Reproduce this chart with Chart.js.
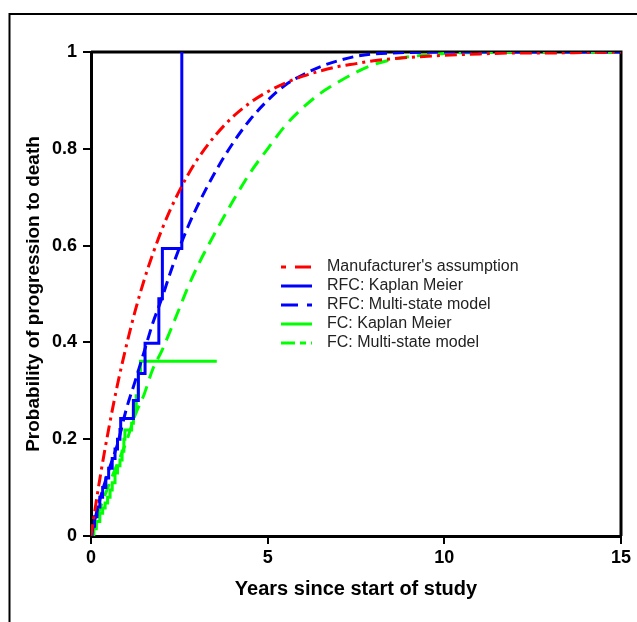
<!DOCTYPE html>
<html>
<head>
<meta charset="utf-8">
<script src="https://cdn.jsdelivr.net/npm/chart.js@4.4.1/dist/chart.umd.min.js"></script>
<style>
  html, body { margin: 0; padding: 0; background: #fff; }
  #wrap { width: 637px; height: 622px; }
</style>
</head>
<body>
<div id="wrap"><canvas id="chart" width="637" height="622"></canvas></div>
<script>
// time grid for the smooth curves (years)
const years = [0, 0.25, 0.5, 0.75, 1, 1.25, 1.5, 1.75, 2, 2.25, 2.5, 2.75, 3, 3.5, 4, 4.5, 5, 5.5, 6, 6.5, 7, 7.5, 8, 8.5, 9, 10, 11, 12, 13, 14, 15];

const manufacturer = [0, 0.118, 0.221, 0.313, 0.393, 0.465, 0.528, 0.583, 0.632, 0.675, 0.713, 0.747, 0.777, 0.826, 0.865, 0.895, 0.918, 0.936, 0.95, 0.961, 0.97, 0.976, 0.982, 0.986, 0.989, 0.993, 0.996, 0.998, 0.998, 0.999, 1];
const rfcMultiState = [0, 0.075, 0.135, 0.19, 0.262, 0.32, 0.38, 0.44, 0.49, 0.545, 0.595, 0.64, 0.68, 0.75, 0.81, 0.86, 0.9, 0.932, 0.953, 0.97, 0.982, 0.991, 0.996, 0.998, 0.999, 1, 1, 1, 1, 1, 1];
const fcMultiState = [0, 0.055, 0.105, 0.15, 0.195, 0.25, 0.292, 0.345, 0.382, 0.425, 0.47, 0.515, 0.555, 0.625, 0.69, 0.75, 0.8, 0.848, 0.885, 0.915, 0.938, 0.958, 0.974, 0.984, 0.99, 0.997, 0.999, 1, 1, 1, 1];

// Kaplan Meier step points (event time, cumulative probability)
const rfcKmTimes = [0, 0.03, 0.1, 0.17, 0.25, 0.33, 0.42, 0.5, 0.6, 0.68, 0.75, 0.82, 0.84, 1.2, 1.34, 1.53, 1.92, 2.02, 2.57];
const rfcKmProb  = [0, 0.02, 0.04, 0.06, 0.08, 0.1, 0.12, 0.14, 0.16, 0.18, 0.2, 0.22, 0.243, 0.28, 0.336, 0.398, 0.49, 0.594, 1];
const fcKmTimes = [0, 0.08, 0.15, 0.25, 0.33, 0.4, 0.47, 0.54, 0.6, 0.68, 0.75, 0.82, 0.88, 0.93, 0.96, 1.15, 1.2, 1.28, 1.34, 1.4, 3.56];
const fcKmProb  = [0, 0.015, 0.03, 0.047, 0.058, 0.068, 0.08, 0.095, 0.11, 0.13, 0.145, 0.157, 0.175, 0.2, 0.219, 0.233, 0.26, 0.29, 0.34, 0.361, 0.361];

const xTicks = [0, 5, 10, 15];
const yTicks = [0, 0.2, 0.4, 0.6, 0.8, 1];

const FONT = '"Liberation Sans", Arial, sans-serif';
const pts = (xs, ys) => xs.map((x, i) => ({ x: x, y: ys[i] }));

// legend sample dash patterns
const legendDash = [[5, 9, 16, 100], [], [17, 9, 5, 100], [], [14, 5, 6, 5, 4, 100]];

const framePlugin = {
  id: 'frame',
  beforeDatasetsDraw(chart) {
    const { ctx, chartArea: a } = chart;
    ctx.save();
    ctx.strokeStyle = '#000';
    ctx.lineWidth = 3;
    ctx.beginPath();
    ctx.moveTo(a.left, a.top);
    ctx.lineTo(a.right, a.top);
    ctx.lineTo(a.right, a.bottom);
    ctx.stroke();
    ctx.lineWidth = 2;
    ctx.beginPath();
    ctx.moveTo(9.5, 622);
    ctx.lineTo(9.5, 14);
    ctx.lineTo(637, 14);
    ctx.stroke();
    ctx.restore();
  },
  afterDatasetsDraw(chart) {
    const ctx = chart.ctx;
    ctx.save();
    chart.data.datasets.forEach((ds, i) => {
      const y = 267 + i * 19;
      ctx.strokeStyle = ds.borderColor;
      ctx.lineWidth = 3;
      ctx.setLineDash(legendDash[i]);
      ctx.beginPath();
      ctx.moveTo(281, y);
      ctx.lineTo(312, y);
      ctx.stroke();
      ctx.setLineDash([]);
      ctx.fillStyle = '#222';
      ctx.font = '16px ' + FONT;
      ctx.textBaseline = 'middle';
      ctx.fillText(ds.label, 327, y);
    });
    ctx.restore();
  }
};

new Chart(document.getElementById('chart'), {
  type: 'line',
  data: {
    datasets: [
      {
        label: "Manufacturer's assumption",
        data: pts(years, manufacturer),
        borderColor: '#ff0000',
        borderWidth: 3,
        borderDash: [12, 5, 3, 5],
        cubicInterpolationMode: 'monotone',
      },
      {
        label: 'RFC: Kaplan Meier',
        data: pts(rfcKmTimes, rfcKmProb),
        borderColor: '#0000ff',
        borderWidth: 3,
        stepped: true,
      },
      {
        label: 'RFC: Multi-state model',
        data: pts(years, rfcMultiState),
        borderColor: '#0000ff',
        borderWidth: 3,
        borderDash: [11, 6],
        cubicInterpolationMode: 'monotone',
      },
      {
        label: 'FC: Kaplan Meier',
        data: pts(fcKmTimes, fcKmProb),
        borderColor: '#00ff00',
        borderWidth: 3,
        stepped: true,
      },
      {
        label: 'FC: Multi-state model',
        data: pts(years, fcMultiState),
        borderColor: '#00ff00',
        borderWidth: 3,
        borderDash: [13, 8],
        cubicInterpolationMode: 'monotone',
      },
    ],
  },
  options: {
    responsive: false,
    animation: false,
    layout: { padding: { top: 52, right: 16, left: 0, bottom: 0 } },
    elements: { point: { radius: 0 } },
    plugins: { legend: { display: false }, tooltip: { enabled: false } },
    scales: {
      x: {
        type: 'linear',
        min: 0,
        max: 15,
        afterBuildTicks: (s) => { s.ticks = xTicks.map(v => ({ value: v })); },
        afterFit: (s) => { s.height = 86; },
        ticks: { color: '#000', padding: 3, maxRotation: 0, font: { family: FONT, size: 18, weight: 'bold' } },
        grid: { display: true, drawOnChartArea: false, drawTicks: true, tickLength: 8, color: '#000', lineWidth: 2 },
        border: { display: true, color: '#000', width: 3 },
        title: {
          display: true,
          text: 'Years since start of study',
          color: '#000',
          font: { family: FONT, size: 20, weight: 'bold' },
          padding: { top: 0, bottom: 21 },
        },
      },
      y: {
        type: 'linear',
        min: 0,
        max: 1,
        afterBuildTicks: (s) => { s.ticks = yTicks.map(v => ({ value: v })); },
        afterFit: (s) => { s.width = 91; },
        ticks: {
          color: '#000',
          padding: 6,
          font: { family: FONT, size: 18, weight: 'bold' },
          callback: (v) => String(v),
        },
        grid: { display: true, drawOnChartArea: false, drawTicks: true, tickLength: 8, color: '#000', lineWidth: 2 },
        border: { display: true, color: '#000', width: 3 },
        title: {
          display: true,
          text: 'Probability of progression to death',
          color: '#000',
          font: { family: FONT, size: 19, weight: 'bold' },
          padding: { top: 22, bottom: 0 },
        },
      },
    },
  },
  plugins: [framePlugin],
});
</script>
</body>
</html>
